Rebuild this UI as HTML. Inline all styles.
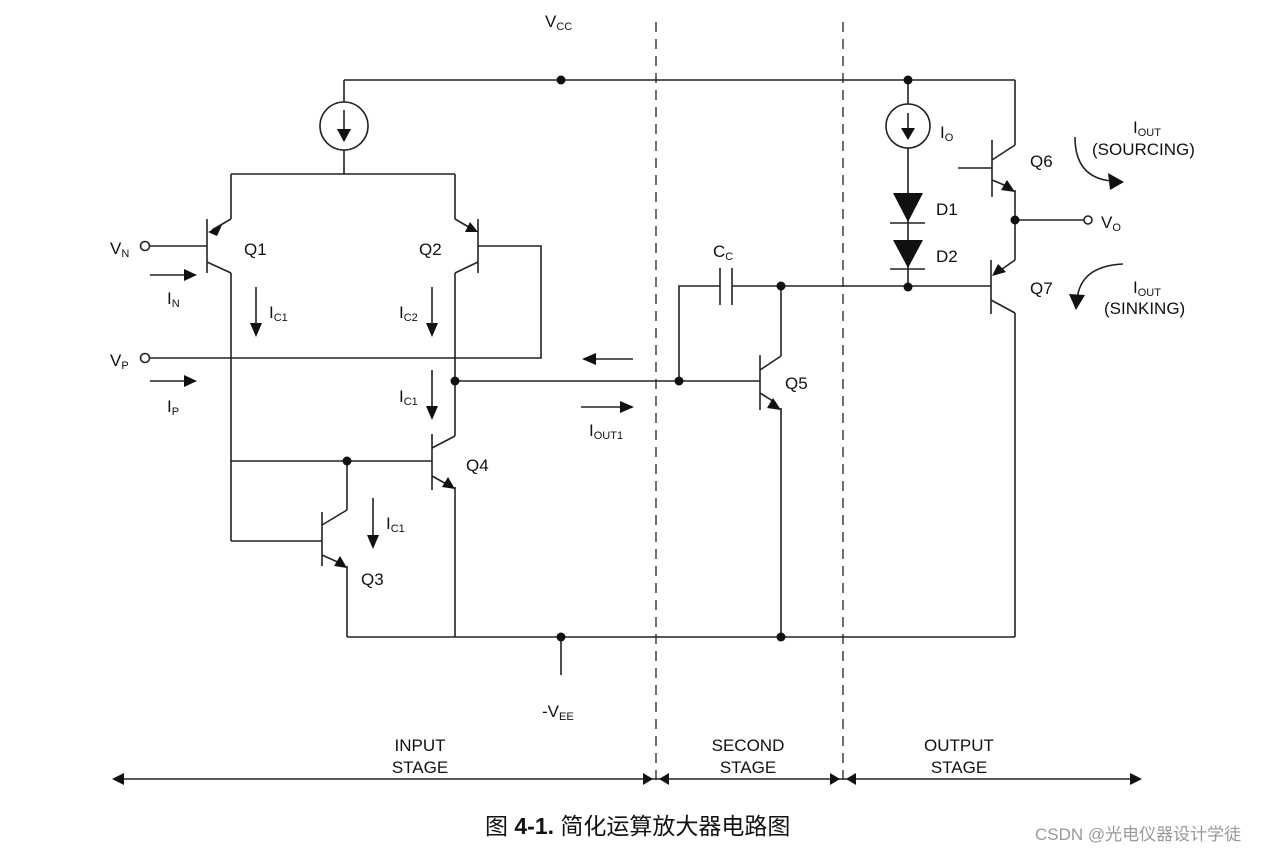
<!DOCTYPE html>
<html><head><meta charset="utf-8"><style>
body{margin:0;background:#fff}
svg{display:block}
text{font-family:"Liberation Sans",Arial,sans-serif;fill:#111}
</style></head><body>
<svg width="1280" height="853" viewBox="0 0 1280 853" xmlns="http://www.w3.org/2000/svg">
<g stroke="#222" stroke-width="1.6" fill="none">
<line x1="344" y1="80" x2="1015" y2="80"/>
<line x1="344" y1="80" x2="344" y2="102"/>
<circle cx="344" cy="126" r="24"/>
<line x1="344" y1="150" x2="344" y2="174"/>
<line x1="344" y1="110" x2="344" y2="132"/>
<line x1="231" y1="174" x2="455" y2="174"/>
<line x1="231" y1="174" x2="231" y2="219"/>
<line x1="231" y1="219" x2="212" y2="230"/>
<line x1="207" y1="219" x2="207" y2="273"/>
<line x1="145" y1="246" x2="207" y2="246"/>
<line x1="207" y1="262" x2="231" y2="273"/>
<line x1="231" y1="273" x2="231" y2="541"/>
<line x1="455" y1="174" x2="455" y2="219"/>
<line x1="455" y1="219" x2="472" y2="229"/>
<line x1="478" y1="219" x2="478" y2="273"/>
<polyline points="478,246 541,246 541,358 150,358"/>
<line x1="478" y1="262" x2="455" y2="273"/>
<line x1="455" y1="273" x2="455" y2="436"/>
<line x1="455" y1="381" x2="760" y2="381"/>
<line x1="455" y1="436" x2="432" y2="448"/>
<line x1="432" y1="434" x2="432" y2="490"/>
<line x1="231" y1="461" x2="432" y2="461"/>
<line x1="432" y1="476" x2="450" y2="486"/>
<line x1="455" y1="487" x2="455" y2="637"/>
<line x1="347" y1="461" x2="347" y2="510"/>
<line x1="347" y1="510" x2="322" y2="525"/>
<line x1="322" y1="512" x2="322" y2="566"/>
<line x1="231" y1="541" x2="322" y2="541"/>
<line x1="322" y1="555" x2="342" y2="564"/>
<line x1="347" y1="566" x2="347" y2="637"/>
<line x1="347" y1="637" x2="1015" y2="637"/>
<line x1="561" y1="637" x2="561" y2="675"/>
<polyline points="679,381 679,286 720,286"/>
<line x1="720" y1="268" x2="720" y2="305"/>
<line x1="732" y1="268" x2="732" y2="305"/>
<line x1="732" y1="286" x2="991" y2="286"/>
<line x1="760" y1="355" x2="760" y2="410"/>
<line x1="760" y1="370" x2="781" y2="356"/>
<line x1="781" y1="356" x2="781" y2="286"/>
<line x1="760" y1="393" x2="776" y2="403"/>
<line x1="781" y1="408" x2="781" y2="637"/>
<line x1="908" y1="80" x2="908" y2="104"/>
<circle cx="908" cy="126" r="22"/>
<line x1="908" y1="113" x2="908" y2="132"/>
<line x1="908" y1="148" x2="908" y2="287"/>
<line x1="890" y1="223" x2="925" y2="223"/>
<line x1="890" y1="269" x2="925" y2="269"/>
<line x1="1015" y1="80" x2="1015" y2="145"/>
<line x1="1015" y1="145" x2="992" y2="160"/>
<line x1="992" y1="140" x2="992" y2="197"/>
<line x1="958" y1="168" x2="992" y2="168"/>
<line x1="992" y1="180" x2="1009" y2="187"/>
<line x1="1015" y1="190" x2="1015" y2="260"/>
<line x1="1015" y1="220" x2="1084" y2="220"/>
<circle cx="1088" cy="220" r="4"/>
<line x1="991" y1="260" x2="991" y2="314"/>
<line x1="1015" y1="260" x2="998" y2="272"/>
<line x1="991" y1="300" x2="1015" y2="313"/>
<line x1="1015" y1="313" x2="1015" y2="637"/>
<circle cx="145" cy="246" r="4.5" fill="#fff"/>
<circle cx="145" cy="358" r="4.5" fill="#fff"/>
<line x1="150" y1="275" x2="188" y2="275"/>
<line x1="150" y1="381" x2="188" y2="381"/>
<line x1="256" y1="287" x2="256" y2="325"/>
<line x1="432" y1="287" x2="432" y2="325"/>
<line x1="432" y1="370" x2="432" y2="408"/>
<line x1="373" y1="498" x2="373" y2="538"/>
<line x1="633" y1="359" x2="593" y2="359"/>
<line x1="581" y1="407" x2="622" y2="407"/>
<path d="M1075,137 Q1075,178 1112,181"/>
<path d="M1123,264 Q1080,266 1077,300"/>
<line x1="656" y1="22" x2="656" y2="780" stroke-dasharray="10,7" stroke-width="1.3"/>
<line x1="843" y1="22" x2="843" y2="780" stroke-dasharray="10,7" stroke-width="1.3"/>
<line x1="120" y1="779" x2="1135" y2="779"/>
</g>
<g fill="#111" stroke="none">
<circle cx="561" cy="80" r="4.5"/><circle cx="908" cy="80" r="4.5"/>
<circle cx="455" cy="381" r="4.5"/><circle cx="679" cy="381" r="4.5"/>
<circle cx="347" cy="461" r="4.5"/><circle cx="781" cy="286" r="4.5"/>
<circle cx="908" cy="287" r="4.5"/><circle cx="1015" cy="220" r="4.5"/>
<circle cx="561" cy="637" r="4.5"/><circle cx="781" cy="637" r="4.5"/>
<polygon points="337,129 351,129 344,142"/>
<polygon points="901,128 915,128 908,140"/>
<polygon points="893,193 923,193 908,222"/>
<polygon points="893,240 923,240 908,268"/>
<polygon points="208,232 222,225 217,236"/>
<polygon points="478,232 465,232 470,222"/>
<polygon points="455,489 442,487 448,477"/>
<polygon points="347,568 334,566 340,556"/>
<polygon points="781,410 767,408 773,398"/>
<polygon points="1015,192 1001,190 1007,180"/>
<polygon points="992,276 998,264 1006,272"/>
<polygon points="197,275 184,269 184,281"/>
<polygon points="197,381 184,375 184,387"/>
<polygon points="256,337 250,323 262,323"/>
<polygon points="432,337 426,323 438,323"/>
<polygon points="432,420 426,406 438,406"/>
<polygon points="373,549 367,535 379,535"/>
<polygon points="582,359 596,353 596,365"/>
<polygon points="634,407 620,401 620,413"/>
<polygon points="1124,182 1108,173 1110,190"/>
<polygon points="1076,310 1069,294 1085,295"/>
<polygon points="112,779 124,773 124,785"/>
<polygon points="653,779 643,773 643,785"/>
<polygon points="659,779 669,773 669,785"/>
<polygon points="840,779 830,773 830,785"/>
<polygon points="846,779 856,773 856,785"/>
<polygon points="1142,779 1130,773 1130,785"/>
</g>
<g font-size="17">
<text x="545" y="27">V<tspan font-size="11" dy="3">CC</tspan></text>
<text x="110" y="254">V<tspan font-size="11" dy="3">N</tspan></text>
<text x="110" y="366">V<tspan font-size="11" dy="3">P</tspan></text>
<text x="167" y="304">I<tspan font-size="11" dy="3">N</tspan></text>
<text x="167" y="412">I<tspan font-size="11" dy="3">P</tspan></text>
<text x="244" y="255">Q1</text>
<text x="419" y="255">Q2</text>
<text x="269" y="318">I<tspan font-size="11" dy="3">C1</tspan></text>
<text x="399" y="318">I<tspan font-size="11" dy="3">C2</tspan></text>
<text x="399" y="402">I<tspan font-size="11" dy="3">C1</tspan></text>
<text x="386" y="529">I<tspan font-size="11" dy="3">C1</tspan></text>
<text x="466" y="471">Q4</text>
<text x="361" y="585">Q3</text>
<text x="589" y="436">I<tspan font-size="11" dy="3">OUT1</tspan></text>
<text x="785" y="389">Q5</text>
<text x="713" y="257">C<tspan font-size="11" dy="3">C</tspan></text>
<text x="940" y="138">I<tspan font-size="11" dy="3">O</tspan></text>
<text x="936" y="215">D1</text>
<text x="936" y="262">D2</text>
<text x="1030" y="167">Q6</text>
<text x="1030" y="294">Q7</text>
<text x="1101" y="228">V<tspan font-size="11" dy="3">O</tspan></text>
<text x="1133" y="133">I<tspan font-size="11" dy="3">OUT</tspan></text>
<text x="1092" y="155">(SOURCING)</text>
<text x="1133" y="293">I<tspan font-size="11" dy="3">OUT</tspan></text>
<text x="1104" y="314">(SINKING)</text>
<text x="542" y="717">-V<tspan font-size="11" dy="3">EE</tspan></text>
<text x="420" y="751" text-anchor="middle">INPUT</text>
<text x="420" y="773" text-anchor="middle">STAGE</text>
<text x="748" y="751" text-anchor="middle">SECOND</text>
<text x="748" y="773" text-anchor="middle">STAGE</text>
<text x="959" y="751" text-anchor="middle">OUTPUT</text>
<text x="959" y="773" text-anchor="middle">STAGE</text>
</g>
<text x="485" y="834" font-size="23" style="font-family:'Liberation Sans','Noto Sans CJK SC',sans-serif">图 <tspan font-weight="bold">4-1.</tspan> 简化运算放大器电路图</text>
<text x="1035" y="840" font-size="17" style="font-family:'Liberation Sans','Noto Sans CJK SC',sans-serif;fill:#999">CSDN @光电仪器设计学徒</text>
</svg>
</body></html>
